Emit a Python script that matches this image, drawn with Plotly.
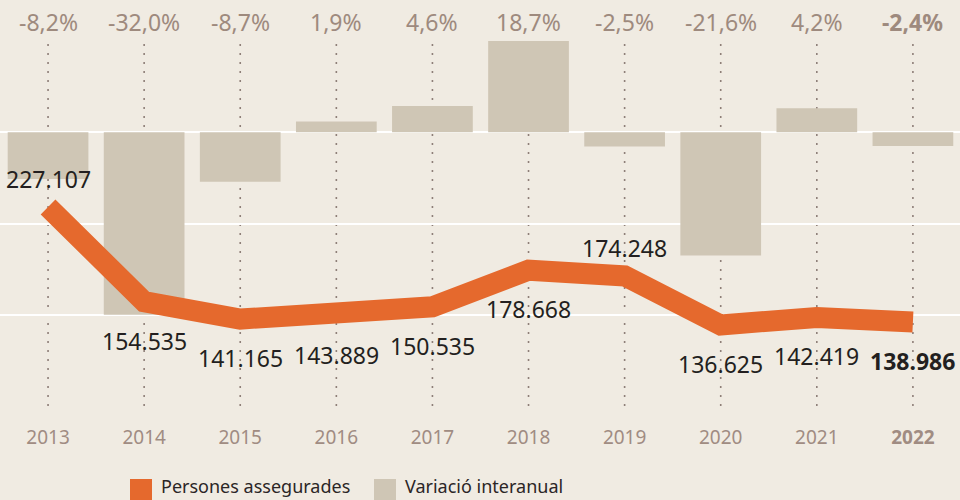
import plotly.graph_objects as go

years = [2013, 2014, 2015, 2016, 2017, 2018, 2019, 2020, 2021, 2022]
persones = [227107, 154535, 141165, 143889, 150535, 178668, 174248, 136625, 142419, 138986]
variacio = [-8.2, -32.0, -8.7, 1.9, 4.6, 18.7, -2.5, -21.6, 4.2, -2.4]
label_side = ["above", "below", "below", "below", "below", "below", "above", "below", "below", "below"]

BG = "#f0ebe2"
ORANGE = "#e5692d"
BAR = "#cfc6b5"
BROWN = "#9e8a7e"
FONT = "Noto Sans"


def fmt_num(v):
    return f"{v:,}".replace(",", ".")


def fmt_pct(v):
    return f"{v:.1f}%".replace(".", ",")


fig = go.Figure()

# bars on the base axis, line on the overlaying one so it is drawn on top
fig.add_trace(go.Bar(
    x=years, y=variacio, yaxis="y", width=0.84,
    marker=dict(color=BAR, line=dict(width=0)),
    name="Variació interanual", hoverinfo="skip",
))

fig.add_trace(go.Scatter(
    x=years, y=persones, yaxis="y2", mode="lines",
    line=dict(color=ORANGE, width=21, shape="linear"),
    name="Persones assegurades", hoverinfo="skip",
))

# dotted vertical guides
for yr in years:
    fig.add_shape(type="line", xref="x", yref="paper", x0=yr, x1=yr, y0=0, y1=1,
                  line=dict(color="#8e7f78", width=1.6, dash="2px,7px"), layer="below")

# percentage labels on top
for i, (yr, v) in enumerate(zip(years, variacio)):
    txt = fmt_pct(v)
    if i == len(years) - 1:
        txt = f"<b>{txt}</b>"
    fig.add_annotation(x=yr, y=1, xref="x", yref="paper", text=txt, showarrow=False,
                       yshift=19, yanchor="middle",
                       font=dict(family=FONT, size=23, color=BROWN))

# value labels next to the line
for i, (yr, v, side) in enumerate(zip(years, persones, label_side)):
    txt = fmt_num(v)
    if i == len(years) - 1:
        txt = f"<b>{txt}</b>"
    fig.add_annotation(x=yr, y=v, xref="x", yref="y2", text=txt, showarrow=False,
                       yshift=28 if side == "above" else -39, yanchor="middle",
                       font=dict(family=FONT, size=23, color="#231f20"))

# legend drawn by hand
legend_items = [("Persones assegurades", ORANGE, 130), ("Variació interanual", BAR, 374)]
for name, col, px0 in legend_items:
    fig.add_shape(type="rect", xref="paper", yref="paper",
                  x0=px0 / 960, x1=(px0 + 22) / 960,
                  y0=(406 - 500) / 365, y1=(406 - 479) / 365,
                  fillcolor=col, line=dict(width=0))
    fig.add_annotation(x=(px0 + 29) / 960, y=(406 - 486) / 365, xref="paper", yref="paper",
                       text=name, showarrow=False, xanchor="left", yanchor="middle",
                       font=dict(family=FONT, size=18, color="#2b2626"))

fig.update_layout(
    width=960, height=500,
    margin=dict(l=0, r=0, t=41, b=94),
    paper_bgcolor=BG, plot_bgcolor=BG,
    showlegend=False,
    xaxis=dict(
        range=[2012.5, 2022.49], tickvals=years,
        ticktext=[str(y) for y in years[:-1]] + ["<b>2022</b>"],
        showgrid=False, zeroline=False, showline=False,
        ticks="outside", ticklen=14, tickcolor="rgba(0,0,0,0)",
        tickfont=dict(family=FONT, size=19, color="#a08c82"),
    ),
    yaxis=dict(
        range=[-48, 16], tickvals=[-48, -32, -16, 0, 16], showticklabels=False,
        showgrid=True, gridcolor="#ffffff", gridwidth=2, zeroline=False,
    ),
    yaxis2=dict(
        range=[74500, 354400], overlaying="y", side="right",
        showticklabels=False, showgrid=False, zeroline=False,
    ),
)

fig.write_html("out.html", config={"displayModeBar": False},
               post_script="document.body.style.margin='0';")
